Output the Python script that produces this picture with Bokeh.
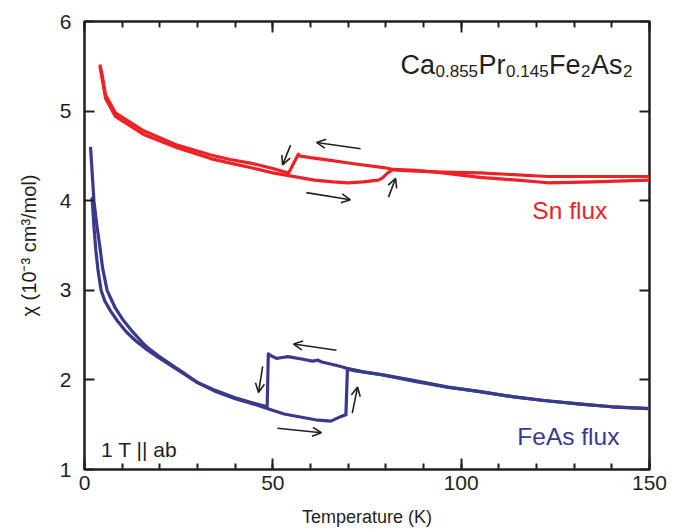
from bokeh.plotting import figure
from bokeh.models import LinearAxis, FixedTicker, Label, Arrow, OpenHead
from bokeh.embed import file_html
from bokeh.resources import INLINE

# ---------------- data ----------------
# FeAs-flux crystal, cooling run (T in K, chi in 1e-3 cm^3/mol)
feas_cool_T = [150, 140, 131.7, 122, 114, 105, 96.4, 88, 80, 74, 69.7, 67, 63, 62, 60.5,
               58, 54, 52.5, 51, 49.5, 48.8, 48.5, 45, 40, 34.3, 30, 26.3, 23, 19.6,
               16.5, 15.3, 12.5, 10.4, 8.2, 6.0, 4.8, 4.1, 3.2, 2.5, 1.6]
feas_cool_chi = [1.68, 1.70, 1.73, 1.77, 1.81, 1.87, 1.92, 1.99, 2.05, 2.09, 2.13, 2.16, 2.20, 2.22, 2.21,
                 2.23, 2.26, 2.25, 2.24, 2.27, 2.29, 1.70, 1.74, 1.80, 1.89, 1.97, 2.08, 2.17, 2.27,
                 2.37, 2.42, 2.55, 2.66, 2.80, 3.00, 3.25, 3.48, 3.75, 4.00, 4.60]
# FeAs-flux crystal, warming run
feas_warm_T = [2.0, 2.5, 3.0, 3.6, 4.4, 5.4, 6.9, 8.7, 11, 13.5, 16.5, 19.6, 23, 26.3, 30, 34.3,
               40, 45, 48.5, 53, 58, 62, 65.4, 68, 69.4, 69.8, 72, 78.6, 88, 96.4, 105,
               114, 122, 131.7, 140, 150]
feas_warm_chi = [4.04, 3.72, 3.45, 3.22, 3.00, 2.88, 2.77, 2.66, 2.54, 2.44, 2.34, 2.25, 2.16, 2.07, 1.97, 1.88,
                 1.79, 1.73, 1.68, 1.62, 1.58, 1.55, 1.54, 1.59, 1.61, 2.12, 2.10, 2.06, 1.98, 1.92, 1.87,
                 1.81, 1.77, 1.73, 1.70, 1.68]

# Sn-flux crystal, cooling run
sn_cool_T = [150, 140, 123, 105, 95, 88, 83, 79.4, 72, 65.3, 60, 57, 56.8, 54.2, 50, 44,
             38.7, 33.5, 24.6, 15.7, 8.2, 5.6, 4.7, 4.1]
sn_cool_chi = [4.27, 4.27, 4.27, 4.31, 4.32, 4.33, 4.34, 4.37, 4.41, 4.45, 4.48, 4.50, 4.52, 4.31, 4.36, 4.42,
               4.46, 4.51, 4.62, 4.78, 4.98, 5.18, 5.40, 5.52]
# Sn-flux crystal, warming run
sn_warm_T = [4.1, 4.7, 5.6, 8.2, 15.7, 24.6, 33.5, 38.7, 44, 50, 54.2, 61, 66, 70, 74, 78,
             79, 80.5, 82, 88, 95, 105, 115, 123, 135, 150]
sn_warm_chi = [5.50, 5.36, 5.14, 4.94, 4.74, 4.59, 4.47, 4.42, 4.37, 4.31, 4.28, 4.23, 4.21, 4.20, 4.21, 4.23,
               4.25, 4.31, 4.35, 4.34, 4.31, 4.26, 4.23, 4.20, 4.21, 4.23]

# direction arrows: (x_start, y_start, x_end, y_end)
arrows_feas = [(66.9, 2.33, 55.5, 2.40), (51.2, 1.46, 62.9, 1.41),
               (47.3, 2.15, 46.2, 1.86), (71.1, 1.63, 72.5, 1.92)]
arrows_sn = [(73.3, 4.58, 61.6, 4.65), (58.9, 4.09, 70.6, 4.01),
             (54.7, 4.62, 52.6, 4.40), (80.7, 4.04, 82.6, 4.25)]

x_major = [0, 50, 100, 150]
x_minor = list(range(0, 151, 10))
y_major = [1, 2, 3, 4, 5, 6]

# title pieces: (text, is_subscript)
title_parts = [("Ca", False), ("0.855", True), ("Pr", False), ("0.145", True),
               ("Fe", False), ("2", True), ("As", False), ("2", True)]

# ---------------- styling ----------------
RED = "#ec2227"
BLUE = "#3a3a8c"
INK = "#231f20"
FONT = "Liberation Sans"
LIFT = 5  # px

p = figure(width=685, height=530, x_range=(0, 150), y_range=(1, 6),
           output_backend="svg", toolbar_location=None,
           min_border_left=84, min_border_right=36, min_border_top=21, min_border_bottom=61)
p.xgrid.visible = False
p.ygrid.visible = False
p.outline_line_color = INK
p.outline_line_width = 2.5
p.outline_line_alpha = 1.0
p.background_fill_color = "white"
p.border_fill_color = "white"

xt = FixedTicker(ticks=x_major, minor_ticks=x_minor)
yt = FixedTicker(ticks=y_major, minor_ticks=[])

xa = p.xaxis[0]
xa.ticker = xt
xa.axis_line_color = None
xa.major_tick_in = 11
xa.major_tick_out = 0
xa.minor_tick_in = 6
xa.minor_tick_out = 0
xa.major_tick_line_width = 2
xa.minor_tick_line_width = 2
xa.major_tick_line_color = INK
xa.minor_tick_line_color = INK
xa.major_label_text_font = FONT
xa.major_label_text_font_size = "21px"
xa.major_label_text_color = INK
xa.major_label_standoff = 6
xa.axis_label = "Temperature (K)"
xa.axis_label_text_font = FONT
xa.axis_label_text_font_size = "18px"
xa.axis_label_text_font_style = "normal"
xa.axis_label_text_color = INK
xa.axis_label_standoff = 14

ya = p.yaxis[0]
ya.ticker = yt
ya.axis_line_color = None
ya.major_tick_in = 10
ya.major_tick_out = 0
ya.minor_tick_in = 0
ya.minor_tick_out = 0
ya.major_tick_line_width = 2
ya.major_tick_line_color = INK
ya.major_label_text_font = FONT
ya.major_label_text_font_size = "21px"
ya.major_label_text_color = INK
ya.major_label_standoff = 13
ya.axis_label = "χ (10⁻³ cm³/mol)"
ya.axis_label_text_font = FONT
ya.axis_label_text_font_size = "20px"
ya.axis_label_text_font_style = "normal"
ya.axis_label_text_color = INK
ya.axis_label_standoff = 17

# mirrored tick marks on the top and right sides (no labels drawn)
top = LinearAxis(ticker=xt, axis_line_color=None, major_tick_in=11, major_tick_out=0,
                 minor_tick_in=6, minor_tick_out=0, major_tick_line_width=2,
                 minor_tick_line_width=2, major_tick_line_color=INK, minor_tick_line_color=INK,
                 major_label_text_color=None, major_label_text_font_size="1px",
                 major_label_standoff=0)
right = LinearAxis(ticker=yt, axis_line_color=None, major_tick_in=10, major_tick_out=0,
                   minor_tick_in=0, minor_tick_out=0, major_tick_line_width=2,
                   major_tick_line_color=INK, major_label_text_color=None,
                   major_label_text_font_size="1px", major_label_standoff=0)
p.add_layout(top, "above")
p.add_layout(right, "right")

# curves
LW = 3.2
p.line(sn_cool_T, sn_cool_chi, line_color=RED, line_width=LW, line_join="round")
p.line(sn_warm_T, sn_warm_chi, line_color=RED, line_width=LW, line_join="round")
p.line(feas_cool_T, feas_cool_chi, line_color=BLUE, line_width=LW, line_join="round")
p.line(feas_warm_T, feas_warm_chi, line_color=BLUE, line_width=LW, line_join="round")

# arrows
for (x0, y0, x1, y1) in arrows_feas + arrows_sn:
    p.add_layout(Arrow(x_start=x0, y_start=y0, x_end=x1, y_end=y1,
                       line_color=INK, line_width=1.6,
                       end=OpenHead(size=9, line_width=1.6, line_color=INK)))

# text labels
p.add_layout(Label(x=118.9, y=3.83, y_offset=LIFT, text="Sn flux", text_font=FONT,
                   text_font_size="24.5px", text_color=RED, text_baseline="alphabetic"))
p.add_layout(Label(x=114.9, y=1.313, y_offset=LIFT, text="FeAs flux", text_font=FONT,
                   text_font_size="24.5px", text_color=BLUE, text_baseline="alphabetic"))
p.add_layout(Label(x=4.4, y=1.167, y_offset=LIFT, text="1 T || ab", text_font=FONT,
                   text_font_size="21px", text_color=INK, text_baseline="alphabetic"))

# formula title, composed of normal and subscript pieces
MAIN, SUB = 27, 17
widths = {"Ca": 1.278, "Pr": 1.0, "Fe": 1.167, "As": 1.167, "0.855": 2.502, "0.145": 2.502, "2": 0.556}
off = 0.0
for txt, sub in title_parts:
    size = SUB if sub else MAIN
    p.add_layout(Label(x=83.9, y=5.456, x_offset=off, y_offset=LIFT - (6 if sub else 0),
                       text=txt, text_font=FONT, text_font_size=f"{size}px",
                       text_color=INK, text_baseline="alphabetic"))
    off += widths[txt] * size + 0.5

open("out.html", "w").write(file_html(p, INLINE))
